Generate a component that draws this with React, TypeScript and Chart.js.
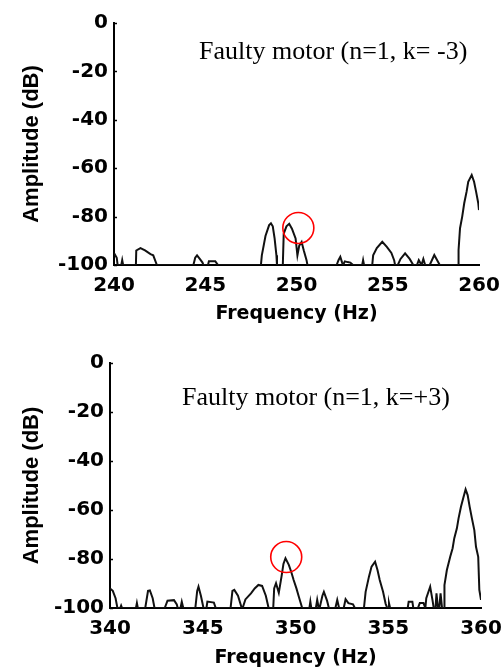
import React, { useEffect, useRef } from "react";
import { Chart, registerables } from "chart.js";

Chart.register(...registerables);

// Spectrum around the k = -3 sideband (240–260 Hz)
const lowBandFreq = [
  240.0, 240.15, 240.2, 240.4, 240.45, 240.5, 241.2, 241.22, 241.45, 241.7, 242.0, 242.15, 242.35,
  244.35, 244.45, 244.55, 244.7, 244.85, 244.9, 245.15, 245.2, 245.55, 245.7,
  248.05, 248.1, 248.3, 248.5, 248.6, 248.7, 248.8, 248.9, 248.93,
  249.25, 249.3, 249.45, 249.6, 249.75, 249.95, 250.05, 250.15, 250.28, 250.4, 250.55, 250.6,
  252.2, 252.3, 252.4, 252.5, 252.55, 252.65, 252.8, 252.95, 253.1, 253.6, 253.65, 253.7,
  254.15, 254.2, 254.4, 254.7, 254.95, 255.2, 255.35, 255.4,
  255.55, 255.7, 255.95, 256.2, 256.4, 256.6, 256.7, 256.85, 256.95, 257.05,
  257.3, 257.55, 257.85,
  258.87, 258.88, 258.96, 259.08, 259.19, 259.32, 259.41, 259.6, 259.73, 259.84, 259.96, 260.0,
];
const lowBandAmp = [
  -95, -97, -100, -100, -98, -100, -100, -94, -93, -94, -95.5, -96, -100,
  -100, -97, -96, -97.5, -99, -100, -100, -98.5, -98.5, -100,
  -100, -96, -88, -83.5, -82.8, -84, -89, -96, -100,
  -100, -87, -84, -83, -85, -89, -96, -92, -90.5, -94, -98, -100,
  -100, -98, -96.6, -99, -100, -98.5, -98.8, -99, -100, -100, -98, -100,
  -100, -96, -93, -90.4, -92.5, -95, -98, -100,
  -100, -97.5, -95.2, -97.5, -100, -100, -98, -100, -97.5, -100,
  -100, -95.9, -100,
  -100, -93.8, -84.8, -80, -74.5, -69.7, -65.6, -62.8, -65.6, -69.7, -74.5, -77.3,
];

// Spectrum around the k = +3 sideband (340–360 Hz)
const highBandFreq = [
  340.0, 340.15, 340.3, 340.4, 340.55, 340.6, 340.65, 341.4, 341.45, 341.5,
  341.9, 342.05, 342.15, 342.3, 342.4, 342.95, 343.1, 343.45, 343.6, 343.65, 343.8, 343.87, 343.95,
  344.6, 344.7, 344.77, 344.9, 345.04, 345.2, 345.25, 345.6, 345.7,
  346.5, 346.6, 346.7, 346.9, 347.1, 347.15, 347.3, 347.6, 347.8, 348.0, 348.2, 348.4, 348.55,
  348.8, 348.85, 348.95, 349.1, 349.25, 349.35, 349.46, 349.64, 349.78, 349.9, 350.05, 350.18, 350.36,
  350.75, 350.8, 350.85, 351.1, 351.17, 351.25, 351.3, 351.45, 351.53, 351.7, 351.8,
  352.15, 352.25, 352.35, 352.6, 352.7, 352.85, 353.1, 353.2,
  353.69, 353.78, 353.96, 354.1, 354.29, 354.42, 354.54, 354.72, 354.86, 354.95,
  355.0, 355.04, 355.1, 356.05, 356.1, 356.3, 356.35, 356.6, 356.7, 356.9, 357.0,
  357.05, 357.26, 357.39, 357.45, 357.55, 357.6, 357.68, 357.75, 357.82, 357.9,
  358.02, 358.03, 358.16, 358.34, 358.47, 358.56, 358.7, 358.79, 358.92, 359.04, 359.17,
  359.28, 359.39, 359.51, 359.64, 359.73, 359.85, 359.91, 360.0,
];
const highBandAmp = [
  -92, -93, -96, -100, -100, -99, -100, -100, -98, -100,
  -100, -93, -92.8, -96, -100, -100, -97, -96.8, -98.5, -100, -100, -97.5, -100,
  -100, -93, -91.3, -95, -100, -100, -97.4, -97.8, -100,
  -100, -93, -92.6, -95, -100, -100, -96.5, -94, -92, -90.6, -91, -95, -100,
  -100, -92, -89.9, -93.8, -87, -82, -79.7, -82.4, -85.5, -88.6, -92, -95.4, -100,
  -100, -97.4, -100, -100, -96.7, -100, -100, -95, -93.4, -97, -100,
  -100, -96.7, -100, -100, -96.4, -98, -98.5, -100,
  -100, -93.4, -87.2, -83.1, -81.1, -84.5, -88.6, -93.4, -98.3, -100,
  -100, -98, -100, -100, -97.4, -97.4, -100, -100, -98, -98, -100,
  -96, -91.3, -97, -100, -100, -94, -100, -100, -94, -100,
  -100, -90.6, -84.5, -79.1, -75.6, -71.5, -67.5, -63.4, -58.7, -55.2, -51.6,
  -53.9, -58.7, -63.4, -68.2, -75, -79.1, -92.6, -96.7,
];

const amplitudeTicks = [0, -20, -40, -60, -80, -100];

const lowBandRange = [240, 260];
const highBandRange = [340, 360];

const lowBandCaption = "Faulty motor (n=1, k= -3)";
const highBandCaption = "Faulty motor (n=1, k=+3)";

// Highlighted sideband component: [frequency, amplitude]
const lowBandMark = [250.1, -84.7];
const highBandMark = [349.5, -79.2];

const PANEL_W = 503;
const PANEL_H = 335;

type PanelProps = {
  freq: number[];
  amp: number[];
  range: number[];
  caption: string;
  mark: number[];
  top: number;
  areaTop: number;
  areaLeft: number;
  areaRight: number;
  areaBottom: number;
  captionX: number;
  captionY: number;
  titlePad: number;
};

// keep the plot rectangle fixed regardless of tick label overhang
function clearScalePadding(scale: any) {
  scale.paddingLeft = 0;
  scale.paddingRight = 0;
  scale.paddingTop = 0;
  scale.paddingBottom = 0;
}

function SpectrumPanel(p: PanelProps) {
  const ref = useRef<HTMLCanvasElement>(null);

  useEffect(() => {
    if (!ref.current) return;
    const points = p.freq.map((f, i) => ({ x: f, y: p.amp[i] }));

    const overlay = {
      id: "overlay",
      afterDraw(chart: any) {
        const { ctx, chartArea, scales } = chart;
        const xs = scales.x;
        const ys = scales.y;
        ctx.save();
        // short inward tick marks on the amplitude axis
        ctx.strokeStyle = "#000";
        ctx.lineWidth = 1.5;
        for (const v of amplitudeTicks) {
          const py = Math.round(ys.getPixelForValue(v)) + 0.5;
          ctx.beginPath();
          ctx.moveTo(chartArea.left, py);
          ctx.lineTo(chartArea.left + 3, py);
          ctx.stroke();
        }
        // red circle around the sideband component
        ctx.strokeStyle = "#ff0000";
        ctx.lineWidth = 1.6;
        ctx.beginPath();
        ctx.arc(xs.getPixelForValue(p.mark[0]), ys.getPixelForValue(p.mark[1]), 15.5, 0, Math.PI * 2);
        ctx.stroke();
        // caption
        ctx.fillStyle = "#000";
        ctx.font = '26px "Liberation Serif", "Times New Roman", serif';
        ctx.textBaseline = "alphabetic";
        ctx.textAlign = "left";
        ctx.fillText(p.caption, p.captionX, p.captionY);
        ctx.restore();
      },
    };

    const chart = new Chart(ref.current, {
      type: "line",
      data: {
        datasets: [
          {
            data: points,
            borderColor: "#111",
            borderWidth: 2,
            pointRadius: 0,
            tension: 0,
            fill: false,
          },
        ],
      },
      options: {
        animation: false,
        responsive: false,
        events: [],
        layout: {
          padding: { top: p.areaTop, right: PANEL_W - p.areaRight, left: 0, bottom: 0 },
        },
        plugins: { legend: { display: false }, tooltip: { enabled: false } },
        scales: {
          x: {
            type: "linear",
            min: p.range[0],
            max: p.range[1],
            afterFit(scale: any) {
              scale.height = PANEL_H - p.areaBottom;
              clearScalePadding(scale);
            },
            ticks: {
              stepSize: 5,
              color: "#000",
              padding: 9,
              maxRotation: 0,
              font: { family: '"DejaVu Sans", sans-serif', weight: "bold", size: 20 },
            },
            grid: { drawOnChartArea: false, drawTicks: false },
            border: { display: true, color: "#000", width: 2 },
            title: {
              display: true,
              text: "Frequency (Hz)",
              color: "#000",
              font: { family: '"DejaVu Sans", sans-serif', weight: "bold", size: 19 },
              padding: { top: 0, bottom: p.titlePad },
            },
          },
          y: {
            min: -100,
            max: 0,
            afterFit(scale: any) {
              scale.width = p.areaLeft;
              clearScalePadding(scale);
            },
            afterBuildTicks(scale: any) {
              scale.ticks = amplitudeTicks.map((v) => ({ value: v }));
            },
            ticks: {
              color: "#000",
              padding: 6,
              font: { family: '"DejaVu Sans", sans-serif', weight: "bold", size: 20 },
            },
            grid: { drawOnChartArea: false, drawTicks: false },
            border: { display: true, color: "#000", width: 2 },
            title: {
              display: true,
              text: "Amplitude (dB)",
              color: "#000",
              font: { family: '"Liberation Sans", Arial, sans-serif', weight: "bold", size: 22 },
              padding: { top: 19, bottom: 0 },
            },
          },
        },
      },
      plugins: [overlay],
    } as any);

    return () => chart.destroy();
  }, []);

  return (
    <canvas
      ref={ref}
      width={PANEL_W}
      height={PANEL_H}
      style={{ position: "absolute", left: 0, top: p.top, display: "block" }}
    />
  );
}

export default function App() {
  return (
    <div style={{ position: "absolute", left: 0, top: 0, width: PANEL_W, height: 670, background: "#fff" }}>
      <SpectrumPanel
        freq={lowBandFreq}
        amp={lowBandAmp}
        range={lowBandRange}
        caption={lowBandCaption}
        mark={lowBandMark}
        top={0}
        areaTop={23}
        areaLeft={114}
        areaRight={479}
        areaBottom={265}
        captionX={199}
        captionY={59}
        titlePad={10}
      />
      <SpectrumPanel
        freq={highBandFreq}
        amp={highBandAmp}
        range={highBandRange}
        caption={highBandCaption}
        mark={highBandMark}
        top={PANEL_H}
        areaTop={28}
        areaLeft={110}
        areaRight={481}
        areaBottom={273}
        captionX={182}
        captionY={70}
        titlePad={1}
      />
    </div>
  );
}
